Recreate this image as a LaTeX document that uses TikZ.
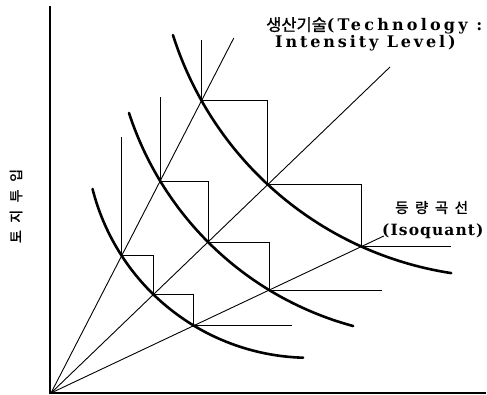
\documentclass[tikz,border=0pt]{standalone}
\usepackage{fontspec}
\newfontfamily\kr{Noto Sans CJK KR}[FakeBold=1.2]
\newfontfamily\lat{DejaVu Serif}[BoldFont={DejaVu Serif Bold}]
\tikzset{
  axis/.style={line width=1.2pt},
  thin/.style={line width=0.9pt},
  isoq/.style={line width=2.6pt, line cap=round},
  lbl/.style={inner sep=0pt, anchor=base west},
}
\begin{document}
\begin{tikzpicture}[x=1pt,y=-1pt]
\useasboundingbox (0,0) rectangle (487,394);
% origin and ray ends
\coordinate (O) at (51,393);
\coordinate (R1) at (233.8,38);
\coordinate (R2) at (390,67);
\coordinate (R3) at (383.8,236);
% intersection points (rays x isoquants)
\coordinate (A1) at (121.7,255.8);
\coordinate (A2) at (153.4,294.5);
\coordinate (A3) at (193.8,325.6);
\coordinate (B1) at (160.2,181);
\coordinate (B2) at (208,242);
\coordinate (B3) at (269.2,290.1);
\coordinate (C1) at (201.5,100.7);
\coordinate (C2) at (267.8,184.6);
\coordinate (C3) at (361.4,246.6);
% axes
\coordinate (Ytop) at (50,6);
\coordinate (Xend) at (486,393);
\draw[axis] (Ytop) -- (50,393) -- (Xend);
% rays
\draw[thin] (O) -- (R1);
\draw[thin] (O) -- (R2);
\draw[thin] (O) -- (R3);
% step lines
\draw[thin] (C1 |- 0,40) -- (C1) -| (C2) -| (C3) -- (451,246.6);
\draw[thin] (B1 |- 0,97) -- (B1) -| (B2) -| (B3) -- (382,290.1);
\draw[thin] (A1 |- 0,137) -- (A1) -| (A2) -| (A3) -- (292,325.6);
% isoquants (circular arcs)
\draw[isoq] plot[domain=91.6:165.8, samples=60, variable=\t] ({309.4+223.7*cos(\t)},{134.1+223.7*sin(\t)});
\draw[isoq] plot[domain=105.1:162.0, samples=60, variable=\t] ({437.7+324.6*cos(\t)},{12.64+324.6*sin(\t)});
\draw[isoq] plot[domain=98.7:162.4, samples=60, variable=\t] ({503.7+347*cos(\t)},{-69.9+347*sin(\t)});
% labels
\node[lbl, align=left] (t1) at (266,47.5) {\kr\fontsize{16.5}{13}\selectfont 생산기술\lat\bfseries\fontsize{16}{13}\selectfont\addfontfeatures{LetterSpace=20}(Technology :\\
\hspace*{9pt}\lat\bfseries\fontsize{16}{13}\selectfont\addfontfeatures{LetterSpace=18}Intensity Level)};
\node[lbl] (t3) at (395,213) {\kr\fontsize{14.5}{14.5}\selectfont 등\hspace{6.5pt}량\hspace{6.5pt}곡\hspace{6.5pt}선};
\node[lbl] (t4) at (382,235) {\lat\bfseries\fontsize{15.5}{15.5}\selectfont\addfontfeatures{LetterSpace=7}(Isoquant)};
\node[inner sep=0pt, rotate=90] (ylab) at (16,206) {\kr\fontsize{14}{14}\selectfont 토\hspace{7.5pt}지\hspace{7.5pt}투\hspace{7.5pt}입};
\end{tikzpicture}
\end{document}
